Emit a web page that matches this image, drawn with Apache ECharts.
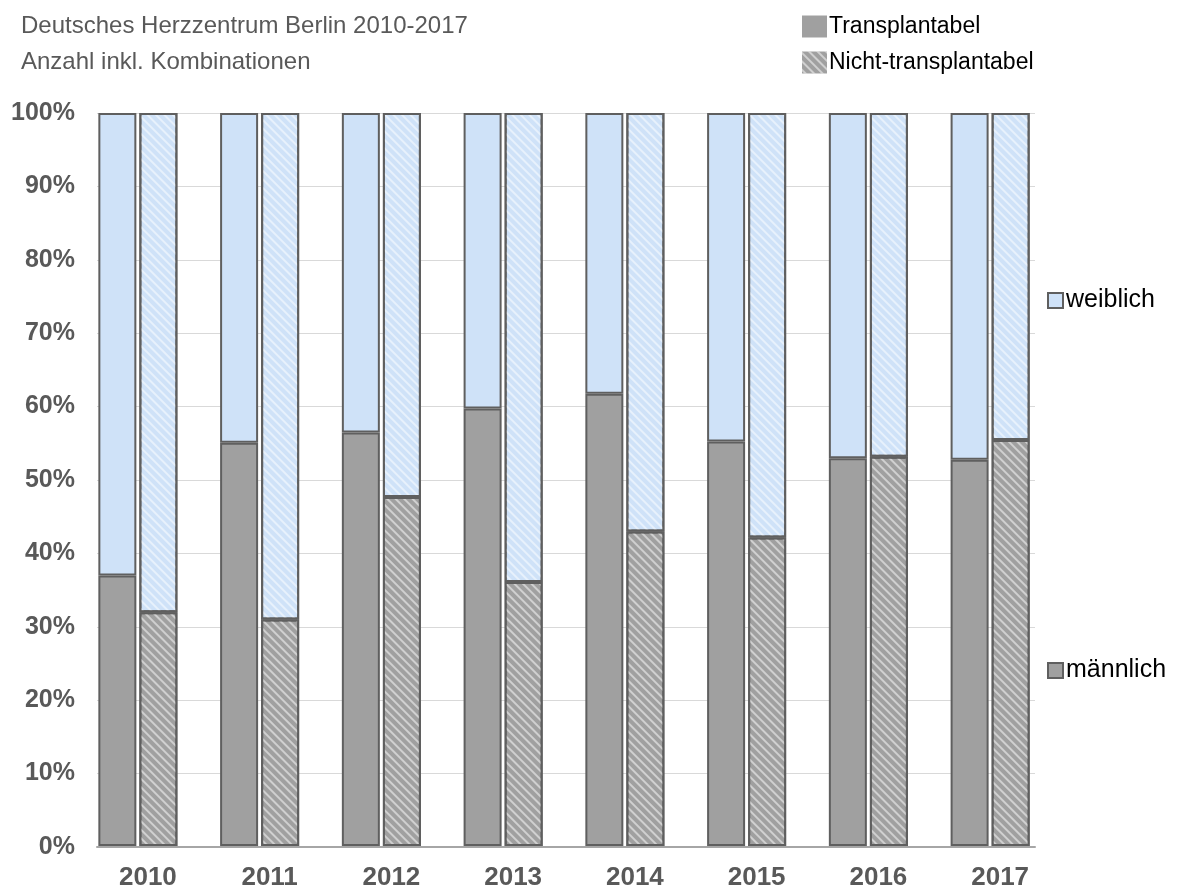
<!DOCTYPE html>
<html>
<head>
<meta charset="utf-8">
<script src="https://cdn.jsdelivr.net/npm/echarts@6/dist/echarts.min.js"></script>
<style>
  html, body { margin: 0; padding: 0; background: #fff; }
  #chart { width: 1183px; height: 891px; }
</style>
</head>
<body>
<div id="chart"></div>
<script>
// Anteil männlich / weiblich in % je Jahr
var years = ["2010", "2011", "2012", "2013", "2014", "2015", "2016", "2017"];
var transMale = [36.9, 55.0, 56.4, 59.7, 61.7, 55.2, 52.9, 52.7];
var transFemale = [63.1, 45.0, 43.6, 40.3, 38.3, 44.8, 47.1, 47.3];
var nichtMale = [31.9, 30.9, 47.6, 36.0, 42.9, 42.1, 53.1, 55.4];
var nichtFemale = [68.1, 69.1, 52.4, 64.0, 57.1, 57.9, 46.9, 44.6];
var yTicks = [0, 10, 20, 30, 40, 50, 60, 70, 80, 90, 100];

var grey = "#a0a0a0";
var blue = "#cfe2f8";
var border = "#5f5f5f";
var font = "Liberation Sans, Arial, sans-serif";

var hatch = {
  symbol: "rect",
  symbolSize: 1,
  color: "rgba(255,255,255,0.5)",
  dashArrayX: [1, 0],
  dashArrayY: [2, 4],
  rotation: Math.PI / 4
};

var myChart = echarts.init(document.getElementById("chart"));

function barSeries(name, stack, data, color, decal) {
  return {
    name: name,
    type: "bar",
    stack: stack,
    xAxisIndex: 0,
    yAxisIndex: 0,
    barWidth: 38,
    barGap: "8%",
    data: data,
    itemStyle: {
      color: color,
      borderColor: border,
      borderWidth: 2,
      decal: decal || null
    }
  };
}

myChart.setOption({
  animation: false,
  title: {
    text: "Deutsches Herzzentrum Berlin 2010-2017\nAnzahl inkl. Kombinationen",
    left: 21,
    top: 8,
    padding: 0,
    textStyle: {
      fontFamily: font,
      fontSize: 24,
      fontWeight: "normal",
      color: "#595959",
      lineHeight: 36
    }
  },
  legend: [
    {
      data: ["Transplantabel", "Nicht-transplantabel"],
      orient: "vertical",
      left: 802,
      top: 15,
      padding: 0,
      icon: "rect",
      itemWidth: 25,
      itemHeight: 22,
      itemGap: 13,
      selectedMode: false,
      textStyle: { fontFamily: font, fontSize: 23, color: "#000", padding: [0, 0, 0, -3] }
    },
    {
      data: ["weiblich"],
      left: 1047,
      top: 288,
      padding: 0,
      icon: "rect",
      itemWidth: 15,
      itemHeight: 15,
      selectedMode: false,
      textStyle: { fontFamily: font, fontSize: 25, color: "#000", padding: [0, 0, 0, -2] }
    },
    {
      data: ["männlich"],
      left: 1047,
      top: 658,
      padding: 0,
      icon: "rect",
      itemWidth: 15,
      itemHeight: 15,
      selectedMode: false,
      textStyle: { fontFamily: font, fontSize: 25, color: "#000", padding: [0, 0, 0, -2] }
    }
  ],
  grid: [
    { left: 77, right: 132, top: 113, bottom: 44 },
    { left: 97, right: 148, top: 113, bottom: 44 }
  ],
  xAxis: [
    {
      type: "category",
      gridIndex: 0,
      data: years,
      axisLine: { show: false },
      axisTick: { show: false },
      axisLabel: {
        margin: 19,
        padding: [0, 0, 0, 20],
        fontFamily: font,
        fontSize: 26,
        fontWeight: "bold",
        color: "#595959"
      }
    },
    {
      type: "category",
      gridIndex: 1,
      data: years,
      axisLine: { lineStyle: { color: "#a6a6a6", width: 2 } },
      axisTick: { show: false },
      axisLabel: { show: false }
    }
  ],
  yAxis: [
    {
      type: "value",
      gridIndex: 0,
      min: 0,
      max: 100,
      interval: 10,
      show: false,
      splitLine: { show: false }
    },
    {
      type: "value",
      gridIndex: 1,
      min: yTicks[0],
      max: yTicks[yTicks.length - 1],
      interval: yTicks[1] - yTicks[0],
      axisLine: { show: false },
      axisTick: { show: false },
      splitLine: { lineStyle: { color: "#d9d9d9", width: 1 } },
      axisLabel: {
        margin: 22,
        formatter: "{value}%",
        fontFamily: font,
        fontSize: 25,
        fontWeight: "bold",
        color: "#595959"
      }
    }
  ],
  series: [
    barSeries("männlich", "trans", transMale, grey),
    barSeries("weiblich", "trans", transFemale, blue),
    barSeries("Nicht-transplantabel männlich", "nicht", nichtMale, grey, hatch),
    barSeries("Nicht-transplantabel weiblich", "nicht", nichtFemale, blue, hatch),
    // legend-only entries
    {
      name: "Transplantabel",
      type: "bar",
      xAxisIndex: 1,
      yAxisIndex: 1,
      data: [],
      itemStyle: { color: grey, borderWidth: 0 }
    },
    {
      name: "Nicht-transplantabel",
      type: "bar",
      xAxisIndex: 1,
      yAxisIndex: 1,
      data: [],
      itemStyle: { color: grey, borderWidth: 0, decal: hatch }
    }
  ]
});
</script>
</body>
</html>
